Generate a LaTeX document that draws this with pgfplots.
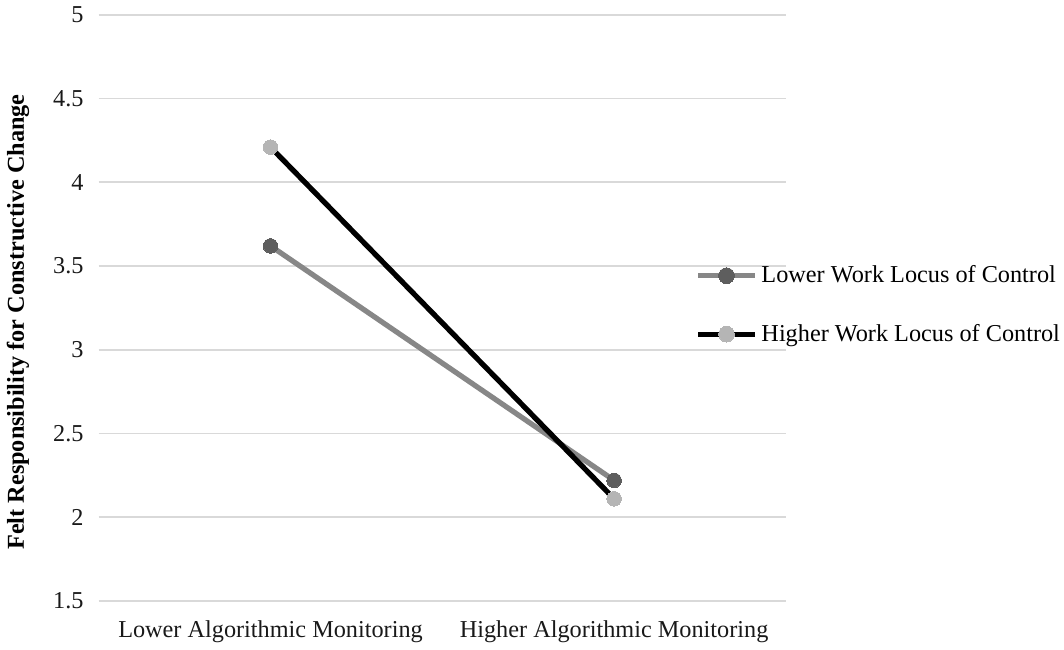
\documentclass[border=0pt]{standalone}
\usepackage{pgfplots}
\pgfplotsset{compat=1.18}
\usepackage{fontspec}
\setmainfont{Liberation Serif}
\definecolor{grid}{HTML}{D9D9D9}
\definecolor{lowline}{HTML}{878787}
\definecolor{lowmark}{HTML}{5E5E5E}
\definecolor{highmark}{HTML}{B5B5B5}
\begin{document}
\begin{tikzpicture}
\begin{axis}[
  scale only axis,
  width=340pt, height=290pt,
  xmin=-0.5, xmax=1.5,
  ymin=1.5, ymax=5,
  ytick={1.5,2,2.5,3,3.5,4,4.5,5},
  yticklabels={1.5,2,2.5,3,3.5,4,4.5,5},
  xtick={0,1},
  xticklabels={Lower Algorithmic Monitoring, Higher Algorithmic Monitoring},
  axis line style={draw=none},
  major tick length=0pt,
  ymajorgrids,
  grid style={draw=grid, line width=0.8pt},
  tick label style={font=\fontsize{12}{14}\selectfont, text=black!90},
  yticklabel style={xshift=-4pt},
  xticklabel style={yshift=-6pt},
  ylabel={\textbf{Felt Responsibility for Constructive Change}},
  ylabel style={font=\fontsize{12}{14}\selectfont, yshift=5pt, xshift=-7pt},
  clip=false,
  legend style={draw=none, fill=none, at={(rel axis cs:0.868,0.505)}, anchor=west,
    font=\fontsize{12}{14}\selectfont, row sep=15pt, inner sep=0pt,
    /tikz/every even column/.append style={column sep=0pt}},
  legend cell align=left,
  legend image code/.code={
    \draw[#1, mark=none] (0pt,0pt) -- (28pt,0pt);
    \draw[#1, only marks, mark size=3.9pt] plot coordinates {(14pt,0pt)};
  },
]
\addplot[color=lowline, line width=2.6pt, mark=*, mark size=3.6pt,
  mark options={draw=lowmark, fill=lowmark, line width=0pt, solid}]
  coordinates {(0,3.62) (1,2.22)};
\addlegendentry{Lower Work Locus of Control}
\addplot[color=black, line width=2.6pt, mark=*, mark size=3.6pt,
  mark options={draw=highmark, fill=highmark, line width=0pt, solid}]
  coordinates {(0,4.21) (1,2.11)};
\addlegendentry{Higher Work Locus of Control}
\end{axis}
\end{tikzpicture}
\end{document}
